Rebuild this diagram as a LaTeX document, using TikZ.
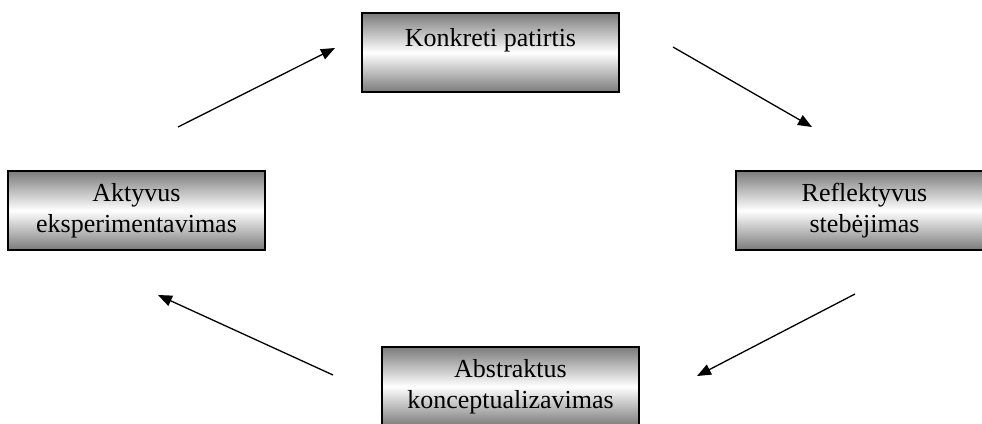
\documentclass[tikz,border=0pt]{standalone}
\usepackage{fontspec}
\setmainfont{Liberation Serif}
\usetikzlibrary{arrows.meta}
\begin{document}
\begin{tikzpicture}[x=1pt,y=-1pt,
  stagebox/.style={draw=black, line width=2pt, minimum width=257pt, minimum height=79pt,
    top color=black!52, bottom color=black!52, middle color=white,
    align=center, font=\fontsize{26}{30.7}\selectfont, inner sep=0pt},
  cyclearrow/.style={line width=1.3pt, -{Triangle[length=14pt,width=11pt]}}]
\useasboundingbox (0,0) rectangle (982,423);
\node[stagebox, text height=18pt, text depth=30pt] (kp) at (490.5,52.5) {Konkreti patirtis};
\node[stagebox] (rs) at (864.5,210.5) {Reflektyvus\\stebėjimas};
\node[stagebox] (ak) at (510.5,386.5) {Abstraktus\\konceptualizavimas};
\node[stagebox] (ae) at (136.5,210.5) {Aktyvus\\eksperimentavimas};
\coordinate (a1s) at (178,127);
\coordinate (a1e) at (335,48);
\coordinate (a2s) at (673,47);
\coordinate (a2e) at (812,127);
\coordinate (a3s) at (855,294);
\coordinate (a3e) at (697,376);
\coordinate (a4s) at (333,375);
\coordinate (a4e) at (158,295);
\draw[cyclearrow] (a1s) -- (a1e);
\draw[cyclearrow] (a2s) -- (a2e);
\draw[cyclearrow] (a3s) -- (a3e);
\draw[cyclearrow] (a4s) -- (a4e);
\end{tikzpicture}
\end{document}
